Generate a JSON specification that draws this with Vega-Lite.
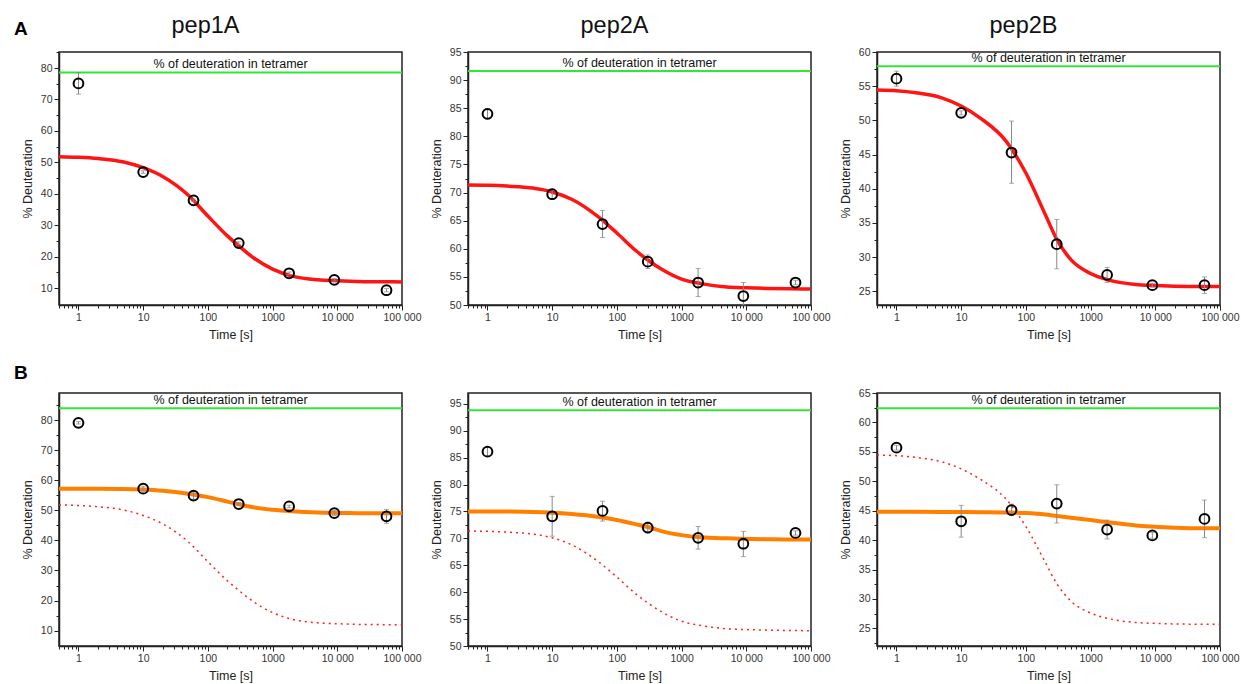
{
  "$schema": "https://vega.github.io/schema/vega-lite/v6.json",
  "background": "white",
  "padding": {"left": 13, "top": 12, "right": 4, "bottom": 4},
  "title": {"text": "A", "anchor": "start", "frame": "group", "fontSize": 19, "fontWeight": "bold", "dx": -45, "offset": -26, "color": "#000"},
  "columns": 3,
  "spacing": {"row": 88, "column": 66},
  "bounds": "flush",
  "config": {
    "font": "Liberation Sans",
    "view": {"stroke": "#222", "strokeWidth": 1.5},
    "axis": {"grid": false, "domainColor": "#222", "domainWidth": 1.5, "tickColor": "#222", "tickWidth": 1, "labelColor": "#333", "labelFontSize": 10.5, "titleColor": "#222", "titleFontSize": 12.5, "titleFontWeight": "normal", "labelPadding": 2, "labelOverlap": false},
    "axisX": {"titlePadding": 6},
    "axisY": {"titlePadding": 6},
    "title": {"fontSize": 23.5, "fontWeight": "normal", "color": "#111", "frame": "group"}
  },
  "datasets": {
    "tetramer": [
      {"p": "A1", "level": 78.6, "label": "% of deuteration in tetramer"},
      {"p": "A2", "level": 91.6, "label": "% of deuteration in tetramer"},
      {"p": "A3", "level": 57.9, "label": "% of deuteration in tetramer"},
      {"p": "B1", "level": 83.9, "label": "% of deuteration in tetramer"},
      {"p": "B2", "level": 93.8, "label": "% of deuteration in tetramer"},
      {"p": "B3", "level": 62.4, "label": "% of deuteration in tetramer"}
    ],
    "points": [
      {"p": "A1", "t": 1, "d": 75.1, "lo": 71.7, "hi": 78.5},
      {"p": "A1", "t": 10, "d": 46.9, "lo": 46.5, "hi": 47.3},
      {"p": "A1", "t": 60, "d": 37.9, "lo": 37.5, "hi": 38.3},
      {"p": "A1", "t": 300, "d": 24.3, "lo": 23.9, "hi": 24.7},
      {"p": "A1", "t": 1800, "d": 14.7, "lo": 14.3, "hi": 15.1},
      {"p": "A1", "t": 9000, "d": 12.6, "lo": 12.2, "hi": 13.0},
      {"p": "A1", "t": 57600, "d": 9.3, "lo": 8.8, "hi": 9.8},
      {"p": "A2", "t": 1, "d": 84.0, "lo": 83.1, "hi": 84.9},
      {"p": "A2", "t": 10, "d": 69.7, "lo": 68.8, "hi": 70.6},
      {"p": "A2", "t": 60, "d": 64.4, "lo": 62.0, "hi": 66.8},
      {"p": "A2", "t": 300, "d": 57.7, "lo": 56.5, "hi": 58.9},
      {"p": "A2", "t": 1800, "d": 54.0, "lo": 51.5, "hi": 56.5},
      {"p": "A2", "t": 9000, "d": 51.6, "lo": 50.0, "hi": 54.0},
      {"p": "A2", "t": 57600, "d": 54.0, "lo": 53.6, "hi": 54.4},
      {"p": "A3", "t": 1, "d": 56.1, "lo": 55.0, "hi": 57.2},
      {"p": "A3", "t": 10, "d": 51.1, "lo": 50.8, "hi": 51.4},
      {"p": "A3", "t": 60, "d": 45.3, "lo": 40.8, "hi": 49.9},
      {"p": "A3", "t": 300, "d": 31.9, "lo": 28.3, "hi": 35.5},
      {"p": "A3", "t": 1800, "d": 27.4, "lo": 26.3, "hi": 28.5},
      {"p": "A3", "t": 9000, "d": 25.9, "lo": 25.6, "hi": 26.2},
      {"p": "A3", "t": 57600, "d": 25.9, "lo": 24.7, "hi": 27.1},
      {"p": "B1", "t": 1, "d": 79.1, "lo": 78.7, "hi": 79.5},
      {"p": "B1", "t": 10, "d": 57.2, "lo": 56.4, "hi": 58.0},
      {"p": "B1", "t": 60, "d": 54.9, "lo": 53.7, "hi": 56.1},
      {"p": "B1", "t": 300, "d": 52.1, "lo": 51.7, "hi": 52.5},
      {"p": "B1", "t": 1800, "d": 51.3, "lo": 50.9, "hi": 51.7},
      {"p": "B1", "t": 9000, "d": 49.1, "lo": 48.3, "hi": 49.9},
      {"p": "B1", "t": 57600, "d": 48.0, "lo": 45.7, "hi": 50.3},
      {"p": "B2", "t": 1, "d": 86.1, "lo": 85.3, "hi": 86.9},
      {"p": "B2", "t": 10, "d": 74.1, "lo": 70.4, "hi": 77.8},
      {"p": "B2", "t": 60, "d": 75.1, "lo": 73.2, "hi": 76.9},
      {"p": "B2", "t": 300, "d": 72.0, "lo": 71.0, "hi": 73.0},
      {"p": "B2", "t": 1800, "d": 70.1, "lo": 68.0, "hi": 72.2},
      {"p": "B2", "t": 9000, "d": 69.0, "lo": 66.6, "hi": 71.3},
      {"p": "B2", "t": 57600, "d": 71.0, "lo": 70.6, "hi": 71.4},
      {"p": "B3", "t": 1, "d": 55.7, "lo": 55.3, "hi": 56.1},
      {"p": "B3", "t": 10, "d": 43.2, "lo": 40.5, "hi": 45.9},
      {"p": "B3", "t": 60, "d": 45.1, "lo": 44.2, "hi": 46.1},
      {"p": "B3", "t": 300, "d": 46.2, "lo": 42.9, "hi": 49.4},
      {"p": "B3", "t": 1800, "d": 41.8, "lo": 40.2, "hi": 43.4},
      {"p": "B3", "t": 9000, "d": 40.8, "lo": 40.3, "hi": 41.3},
      {"p": "B3", "t": 57600, "d": 43.6, "lo": 40.4, "hi": 46.8}
    ],
    "curves": [
      {"p": "pep1A", "f": "A", "t": 0.5, "d": 51.8}, {"p": "pep1A", "f": "A", "t": 1, "d": 51.6}, {"p": "pep1A", "f": "A", "t": 2, "d": 51.2}, {"p": "pep1A", "f": "A", "t": 5, "d": 50.1}, {"p": "pep1A", "f": "A", "t": 10, "d": 48.3}, {"p": "pep1A", "f": "A", "t": 20, "d": 45.5}, {"p": "pep1A", "f": "A", "t": 50, "d": 39.5}, {"p": "pep1A", "f": "A", "t": 100, "d": 32.9}, {"p": "pep1A", "f": "A", "t": 200, "d": 26.6}, {"p": "pep1A", "f": "A", "t": 300, "d": 23.4}, {"p": "pep1A", "f": "A", "t": 500, "d": 19.7}, {"p": "pep1A", "f": "A", "t": 1000, "d": 16.0}, {"p": "pep1A", "f": "A", "t": 2000, "d": 13.8}, {"p": "pep1A", "f": "A", "t": 5000, "d": 12.6}, {"p": "pep1A", "f": "A", "t": 10000, "d": 12.3}, {"p": "pep1A", "f": "A", "t": 20000, "d": 12.1}, {"p": "pep1A", "f": "A", "t": 50000, "d": 12.0}, {"p": "pep1A", "f": "A", "t": 100000, "d": 11.95},
      {"p": "pep2A", "f": "A", "t": 0.5, "d": 71.35}, {"p": "pep2A", "f": "A", "t": 1, "d": 71.3}, {"p": "pep2A", "f": "A", "t": 2, "d": 71.15}, {"p": "pep2A", "f": "A", "t": 5, "d": 70.8}, {"p": "pep2A", "f": "A", "t": 10, "d": 70.1}, {"p": "pep2A", "f": "A", "t": 20, "d": 68.8}, {"p": "pep2A", "f": "A", "t": 50, "d": 65.8}, {"p": "pep2A", "f": "A", "t": 100, "d": 62.8}, {"p": "pep2A", "f": "A", "t": 200, "d": 59.6}, {"p": "pep2A", "f": "A", "t": 300, "d": 58.0}, {"p": "pep2A", "f": "A", "t": 500, "d": 56.3}, {"p": "pep2A", "f": "A", "t": 1000, "d": 54.6}, {"p": "pep2A", "f": "A", "t": 2000, "d": 53.8}, {"p": "pep2A", "f": "A", "t": 5000, "d": 53.2}, {"p": "pep2A", "f": "A", "t": 10000, "d": 53.05}, {"p": "pep2A", "f": "A", "t": 20000, "d": 52.95}, {"p": "pep2A", "f": "A", "t": 50000, "d": 52.87}, {"p": "pep2A", "f": "A", "t": 100000, "d": 52.85},
      {"p": "pep2B", "f": "A", "t": 0.5, "d": 54.45}, {"p": "pep2B", "f": "A", "t": 1, "d": 54.35}, {"p": "pep2B", "f": "A", "t": 2, "d": 54.05}, {"p": "pep2B", "f": "A", "t": 5, "d": 53.3}, {"p": "pep2B", "f": "A", "t": 10, "d": 52.1}, {"p": "pep2B", "f": "A", "t": 20, "d": 50.3}, {"p": "pep2B", "f": "A", "t": 50, "d": 46.9}, {"p": "pep2B", "f": "A", "t": 100, "d": 42.3}, {"p": "pep2B", "f": "A", "t": 200, "d": 36.2}, {"p": "pep2B", "f": "A", "t": 300, "d": 32.6}, {"p": "pep2B", "f": "A", "t": 500, "d": 29.6}, {"p": "pep2B", "f": "A", "t": 1000, "d": 27.6}, {"p": "pep2B", "f": "A", "t": 2000, "d": 26.6}, {"p": "pep2B", "f": "A", "t": 5000, "d": 26.0}, {"p": "pep2B", "f": "A", "t": 10000, "d": 25.85}, {"p": "pep2B", "f": "A", "t": 20000, "d": 25.75}, {"p": "pep2B", "f": "A", "t": 50000, "d": 25.7}, {"p": "pep2B", "f": "A", "t": 100000, "d": 25.7},
      {"p": "pep1A", "f": "B", "t": 0.5, "d": 57.2}, {"p": "pep1A", "f": "B", "t": 1, "d": 57.2}, {"p": "pep1A", "f": "B", "t": 2, "d": 57.15}, {"p": "pep1A", "f": "B", "t": 5, "d": 57.1}, {"p": "pep1A", "f": "B", "t": 10, "d": 56.9}, {"p": "pep1A", "f": "B", "t": 20, "d": 56.5}, {"p": "pep1A", "f": "B", "t": 50, "d": 55.5}, {"p": "pep1A", "f": "B", "t": 100, "d": 54.4}, {"p": "pep1A", "f": "B", "t": 200, "d": 52.9}, {"p": "pep1A", "f": "B", "t": 300, "d": 52.0}, {"p": "pep1A", "f": "B", "t": 500, "d": 51.0}, {"p": "pep1A", "f": "B", "t": 1000, "d": 50.2}, {"p": "pep1A", "f": "B", "t": 2000, "d": 49.7}, {"p": "pep1A", "f": "B", "t": 5000, "d": 49.3}, {"p": "pep1A", "f": "B", "t": 10000, "d": 49.15}, {"p": "pep1A", "f": "B", "t": 20000, "d": 49.05}, {"p": "pep1A", "f": "B", "t": 50000, "d": 49.0}, {"p": "pep1A", "f": "B", "t": 100000, "d": 49.0},
      {"p": "pep2A", "f": "B", "t": 0.5, "d": 75.0}, {"p": "pep2A", "f": "B", "t": 1, "d": 75.0}, {"p": "pep2A", "f": "B", "t": 2, "d": 74.98}, {"p": "pep2A", "f": "B", "t": 5, "d": 74.9}, {"p": "pep2A", "f": "B", "t": 10, "d": 74.75}, {"p": "pep2A", "f": "B", "t": 20, "d": 74.5}, {"p": "pep2A", "f": "B", "t": 50, "d": 74.0}, {"p": "pep2A", "f": "B", "t": 100, "d": 73.4}, {"p": "pep2A", "f": "B", "t": 200, "d": 72.6}, {"p": "pep2A", "f": "B", "t": 300, "d": 72.1}, {"p": "pep2A", "f": "B", "t": 500, "d": 71.3}, {"p": "pep2A", "f": "B", "t": 1000, "d": 70.6}, {"p": "pep2A", "f": "B", "t": 2000, "d": 70.2}, {"p": "pep2A", "f": "B", "t": 5000, "d": 70.0}, {"p": "pep2A", "f": "B", "t": 10000, "d": 69.9}, {"p": "pep2A", "f": "B", "t": 20000, "d": 69.85}, {"p": "pep2A", "f": "B", "t": 50000, "d": 69.8}, {"p": "pep2A", "f": "B", "t": 100000, "d": 69.8},
      {"p": "pep2B", "f": "B", "t": 0.5, "d": 44.8}, {"p": "pep2B", "f": "B", "t": 1, "d": 44.8}, {"p": "pep2B", "f": "B", "t": 2, "d": 44.8}, {"p": "pep2B", "f": "B", "t": 5, "d": 44.79}, {"p": "pep2B", "f": "B", "t": 10, "d": 44.78}, {"p": "pep2B", "f": "B", "t": 20, "d": 44.75}, {"p": "pep2B", "f": "B", "t": 50, "d": 44.7}, {"p": "pep2B", "f": "B", "t": 100, "d": 44.6}, {"p": "pep2B", "f": "B", "t": 200, "d": 44.35}, {"p": "pep2B", "f": "B", "t": 300, "d": 44.1}, {"p": "pep2B", "f": "B", "t": 500, "d": 43.8}, {"p": "pep2B", "f": "B", "t": 1000, "d": 43.4}, {"p": "pep2B", "f": "B", "t": 2000, "d": 43.0}, {"p": "pep2B", "f": "B", "t": 5000, "d": 42.5}, {"p": "pep2B", "f": "B", "t": 10000, "d": 42.25}, {"p": "pep2B", "f": "B", "t": 20000, "d": 42.1}, {"p": "pep2B", "f": "B", "t": 50000, "d": 42.0}, {"p": "pep2B", "f": "B", "t": 100000, "d": 42.0}
    ]
  },
  "concat": [
    {
      "width": 343, "height": 253,
      "title": {"text": "pep1A", "dx": -25, "offset": 10},
      "layer": [
        {"data": {"name": "tetramer"}, "transform": [{"filter": "datum.p == 'A1'"}], "mark": {"type": "rule", "color": "#33e633", "strokeWidth": 2}, "encoding": {"y": {"field": "level", "type": "quantitative", "title": "% Deuteration", "scale": {"domain": [4.6, 85.1], "nice": false, "zero": false}}}},
        {"data": {"name": "tetramer"}, "transform": [{"filter": "datum.p == 'A1'"}], "mark": {"type": "text", "baseline": "bottom", "dy": -1, "fontSize": 12.5, "color": "#111"}, "encoding": {"x": {"datum": 224, "type": "quantitative", "title": "Time [s]", "scale": {"type": "log", "domain": [0.5, 100000], "nice": false}}, "y": {"field": "level", "type": "quantitative", "title": "% Deuteration", "scale": {"domain": [4.6, 85.1], "nice": false, "zero": false}}, "text": {"field": "label"}}},
        {"data": {"name": "curves"}, "transform": [{"filter": "datum.p == 'pep1A' && datum.f == 'A'"}], "mark": {"type": "line", "color": "#ff1414", "strokeWidth": 3.5, "interpolate": "monotone"}, "encoding": {"x": {"field": "t", "type": "quantitative", "title": "Time [s]", "scale": {"type": "log", "domain": [0.5, 100000], "nice": false}}, "y": {"field": "d", "type": "quantitative", "title": "% Deuteration", "scale": {"domain": [4.6, 85.1], "nice": false, "zero": false}}}},
        {"data": {"name": "points"}, "transform": [{"filter": "datum.p == 'A1'"}], "mark": {"type": "errorbar", "ticks": true, "color": "#888", "thickness": 1}, "encoding": {"x": {"field": "t", "type": "quantitative", "title": "Time [s]", "scale": {"type": "log", "domain": [0.5, 100000], "nice": false}}, "y": {"field": "lo", "type": "quantitative", "title": "% Deuteration", "scale": {"domain": [4.6, 85.1], "nice": false, "zero": false}}, "y2": {"field": "hi"}}},
        {"data": {"name": "points"}, "transform": [{"filter": "datum.p == 'A1'"}], "mark": {"type": "point", "shape": "circle", "filled": false, "color": "#000", "strokeWidth": 2, "size": 95, "opacity": 1}, "encoding": {
          "x": {"field": "t", "type": "quantitative", "scale": {"type": "log", "domain": [0.5, 100000], "nice": false}, "axis": {"title": "Time [s]", "tickCount": 20, "labelOverlap": false, "labelFlush": false, "labelExpr": "datum.value == 10000 ? '10 000' : datum.value == 100000 ? '100 000' : indexof([1, 10, 100, 1000], datum.value) >= 0 ? format(datum.value, 'd') : ''", "tickSize": {"condition": {"test": "indexof([1, 10, 100, 1000, 10000, 100000], datum.value) >= 0", "value": 5}, "value": 3}}},
          "y": {"field": "d", "type": "quantitative", "scale": {"domain": [4.6, 85.1], "nice": false, "zero": false}, "axis": {"title": "% Deuteration", "labelOverlap": false, "tickCount": 60, "values": [10, 15, 20, 25, 30, 35, 40, 45, 50, 55, 60, 65, 70, 75, 80, 85], "labelExpr": "datum.value % 10 == 0 ? format(datum.value, 'd') : ''", "tickSize": {"condition": {"test": "datum.value % 10 == 0", "value": 5}, "value": 3}}}}}
      ]
    },
    {
      "width": 343, "height": 253,
      "title": {"text": "pep2A", "dx": -25, "offset": 10},
      "layer": [
        {"data": {"name": "tetramer"}, "transform": [{"filter": "datum.p == 'A2'"}], "mark": {"type": "rule", "color": "#33e633", "strokeWidth": 2}, "encoding": {"y": {"field": "level", "type": "quantitative", "title": "% Deuteration", "scale": {"domain": [50, 95], "nice": false, "zero": false}}}},
        {"data": {"name": "tetramer"}, "transform": [{"filter": "datum.p == 'A2'"}], "mark": {"type": "text", "baseline": "bottom", "dy": -1, "fontSize": 12.5, "color": "#111"}, "encoding": {"x": {"datum": 224, "type": "quantitative", "title": "Time [s]", "scale": {"type": "log", "domain": [0.5, 100000], "nice": false}}, "y": {"field": "level", "type": "quantitative", "title": "% Deuteration", "scale": {"domain": [50, 95], "nice": false, "zero": false}}, "text": {"field": "label"}}},
        {"data": {"name": "curves"}, "transform": [{"filter": "datum.p == 'pep2A' && datum.f == 'A'"}], "mark": {"type": "line", "color": "#ff1414", "strokeWidth": 3.5, "interpolate": "monotone"}, "encoding": {"x": {"field": "t", "type": "quantitative", "title": "Time [s]", "scale": {"type": "log", "domain": [0.5, 100000], "nice": false}}, "y": {"field": "d", "type": "quantitative", "title": "% Deuteration", "scale": {"domain": [50, 95], "nice": false, "zero": false}}}},
        {"data": {"name": "points"}, "transform": [{"filter": "datum.p == 'A2'"}], "mark": {"type": "errorbar", "ticks": true, "color": "#888", "thickness": 1}, "encoding": {"x": {"field": "t", "type": "quantitative", "title": "Time [s]", "scale": {"type": "log", "domain": [0.5, 100000], "nice": false}}, "y": {"field": "lo", "type": "quantitative", "title": "% Deuteration", "scale": {"domain": [50, 95], "nice": false, "zero": false}}, "y2": {"field": "hi"}}},
        {"data": {"name": "points"}, "transform": [{"filter": "datum.p == 'A2'"}], "mark": {"type": "point", "shape": "circle", "filled": false, "color": "#000", "strokeWidth": 2, "size": 95, "opacity": 1}, "encoding": {
          "x": {"field": "t", "type": "quantitative", "scale": {"type": "log", "domain": [0.5, 100000], "nice": false}, "axis": {"title": "Time [s]", "tickCount": 20, "labelOverlap": false, "labelFlush": false, "labelExpr": "datum.value == 10000 ? '10 000' : datum.value == 100000 ? '100 000' : indexof([1, 10, 100, 1000], datum.value) >= 0 ? format(datum.value, 'd') : ''", "tickSize": {"condition": {"test": "indexof([1, 10, 100, 1000, 10000, 100000], datum.value) >= 0", "value": 5}, "value": 3}}},
          "y": {"field": "d", "type": "quantitative", "scale": {"domain": [50, 95], "nice": false, "zero": false}, "axis": {"title": "% Deuteration", "labelOverlap": false, "tickCount": 60, "values": [50, 52.5, 55, 57.5, 60, 62.5, 65, 67.5, 70, 72.5, 75, 77.5, 80, 82.5, 85, 87.5, 90, 92.5, 95], "labelExpr": "datum.value % 5 == 0 ? format(datum.value, 'd') : ''", "tickSize": {"condition": {"test": "datum.value % 5 == 0", "value": 5}, "value": 3}}}}}
      ]
    },
    {
      "width": 343, "height": 253,
      "title": {"text": "pep2B", "dx": -25, "offset": 10},
      "layer": [
        {"data": {"name": "tetramer"}, "transform": [{"filter": "datum.p == 'A3'"}], "mark": {"type": "rule", "color": "#33e633", "strokeWidth": 2}, "encoding": {"y": {"field": "level", "type": "quantitative", "title": "% Deuteration", "scale": {"domain": [23, 60], "nice": false, "zero": false}}}},
        {"data": {"name": "tetramer"}, "transform": [{"filter": "datum.p == 'A3'"}], "mark": {"type": "text", "baseline": "bottom", "dy": -1, "fontSize": 12.5, "color": "#111"}, "encoding": {"x": {"datum": 224, "type": "quantitative", "title": "Time [s]", "scale": {"type": "log", "domain": [0.5, 100000], "nice": false}}, "y": {"field": "level", "type": "quantitative", "title": "% Deuteration", "scale": {"domain": [23, 60], "nice": false, "zero": false}}, "text": {"field": "label"}}},
        {"data": {"name": "curves"}, "transform": [{"filter": "datum.p == 'pep2B' && datum.f == 'A'"}], "mark": {"type": "line", "color": "#ff1414", "strokeWidth": 3.5, "interpolate": "monotone"}, "encoding": {"x": {"field": "t", "type": "quantitative", "title": "Time [s]", "scale": {"type": "log", "domain": [0.5, 100000], "nice": false}}, "y": {"field": "d", "type": "quantitative", "title": "% Deuteration", "scale": {"domain": [23, 60], "nice": false, "zero": false}}}},
        {"data": {"name": "points"}, "transform": [{"filter": "datum.p == 'A3'"}], "mark": {"type": "errorbar", "ticks": true, "color": "#888", "thickness": 1}, "encoding": {"x": {"field": "t", "type": "quantitative", "title": "Time [s]", "scale": {"type": "log", "domain": [0.5, 100000], "nice": false}}, "y": {"field": "lo", "type": "quantitative", "title": "% Deuteration", "scale": {"domain": [23, 60], "nice": false, "zero": false}}, "y2": {"field": "hi"}}},
        {"data": {"name": "points"}, "transform": [{"filter": "datum.p == 'A3'"}], "mark": {"type": "point", "shape": "circle", "filled": false, "color": "#000", "strokeWidth": 2, "size": 95, "opacity": 1}, "encoding": {
          "x": {"field": "t", "type": "quantitative", "scale": {"type": "log", "domain": [0.5, 100000], "nice": false}, "axis": {"title": "Time [s]", "tickCount": 20, "labelOverlap": false, "labelFlush": false, "labelExpr": "datum.value == 10000 ? '10 000' : datum.value == 100000 ? '100 000' : indexof([1, 10, 100, 1000], datum.value) >= 0 ? format(datum.value, 'd') : ''", "tickSize": {"condition": {"test": "indexof([1, 10, 100, 1000, 10000, 100000], datum.value) >= 0", "value": 5}, "value": 3}}},
          "y": {"field": "d", "type": "quantitative", "scale": {"domain": [23, 60], "nice": false, "zero": false}, "axis": {"title": "% Deuteration", "labelOverlap": false, "tickCount": 60, "values": [25, 27.5, 30, 32.5, 35, 37.5, 40, 42.5, 45, 47.5, 50, 52.5, 55, 57.5, 60], "labelExpr": "datum.value % 5 == 0 ? format(datum.value, 'd') : ''", "tickSize": {"condition": {"test": "datum.value % 5 == 0", "value": 5}, "value": 3}}}}}
      ]
    },
    {
      "width": 343, "height": 253,
      "title": {"text": "B", "anchor": "start", "frame": "group", "dx": -45, "offset": 10, "fontSize": 19, "fontWeight": "bold", "color": "#000"},
      "layer": [
        {"data": {"name": "tetramer"}, "transform": [{"filter": "datum.p == 'B1'"}], "mark": {"type": "rule", "color": "#33e633", "strokeWidth": 2}, "encoding": {"y": {"field": "level", "type": "quantitative", "title": "% Deuteration", "scale": {"domain": [4.9, 89], "nice": false, "zero": false}}}},
        {"data": {"name": "tetramer"}, "transform": [{"filter": "datum.p == 'B1'"}], "mark": {"type": "text", "baseline": "bottom", "dy": -1, "fontSize": 12.5, "color": "#111"}, "encoding": {"x": {"datum": 224, "type": "quantitative", "title": "Time [s]", "scale": {"type": "log", "domain": [0.5, 100000], "nice": false}}, "y": {"field": "level", "type": "quantitative", "title": "% Deuteration", "scale": {"domain": [4.9, 89], "nice": false, "zero": false}}, "text": {"field": "label"}}},
        {"data": {"name": "curves"}, "transform": [{"filter": "datum.p == 'pep1A' && datum.f == 'A'"}], "mark": {"type": "line", "color": "#ff2020", "strokeWidth": 1.5, "strokeDash": [2, 4], "interpolate": "monotone"}, "encoding": {"x": {"field": "t", "type": "quantitative", "title": "Time [s]", "scale": {"type": "log", "domain": [0.5, 100000], "nice": false}}, "y": {"field": "d", "type": "quantitative", "title": "% Deuteration", "scale": {"domain": [4.9, 89], "nice": false, "zero": false}}}},
        {"data": {"name": "curves"}, "transform": [{"filter": "datum.p == 'pep1A' && datum.f == 'B'"}], "mark": {"type": "line", "color": "#ff8000", "strokeWidth": 4, "interpolate": "monotone"}, "encoding": {"x": {"field": "t", "type": "quantitative", "title": "Time [s]", "scale": {"type": "log", "domain": [0.5, 100000], "nice": false}}, "y": {"field": "d", "type": "quantitative", "title": "% Deuteration", "scale": {"domain": [4.9, 89], "nice": false, "zero": false}}}},
        {"data": {"name": "points"}, "transform": [{"filter": "datum.p == 'B1'"}], "mark": {"type": "errorbar", "ticks": true, "color": "#888", "thickness": 1}, "encoding": {"x": {"field": "t", "type": "quantitative", "title": "Time [s]", "scale": {"type": "log", "domain": [0.5, 100000], "nice": false}}, "y": {"field": "lo", "type": "quantitative", "title": "% Deuteration", "scale": {"domain": [4.9, 89], "nice": false, "zero": false}}, "y2": {"field": "hi"}}},
        {"data": {"name": "points"}, "transform": [{"filter": "datum.p == 'B1'"}], "mark": {"type": "point", "shape": "circle", "filled": false, "color": "#000", "strokeWidth": 2, "size": 95, "opacity": 1}, "encoding": {
          "x": {"field": "t", "type": "quantitative", "scale": {"type": "log", "domain": [0.5, 100000], "nice": false}, "axis": {"title": "Time [s]", "tickCount": 20, "labelOverlap": false, "labelFlush": false, "labelExpr": "datum.value == 10000 ? '10 000' : datum.value == 100000 ? '100 000' : indexof([1, 10, 100, 1000], datum.value) >= 0 ? format(datum.value, 'd') : ''", "tickSize": {"condition": {"test": "indexof([1, 10, 100, 1000, 10000, 100000], datum.value) >= 0", "value": 5}, "value": 3}}},
          "y": {"field": "d", "type": "quantitative", "scale": {"domain": [4.9, 89], "nice": false, "zero": false}, "axis": {"title": "% Deuteration", "labelOverlap": false, "tickCount": 60, "values": [10, 15, 20, 25, 30, 35, 40, 45, 50, 55, 60, 65, 70, 75, 80, 85], "labelExpr": "datum.value % 10 == 0 ? format(datum.value, 'd') : ''", "tickSize": {"condition": {"test": "datum.value % 10 == 0", "value": 5}, "value": 3}}}}}
      ]
    },
    {
      "width": 343, "height": 253,
      "layer": [
        {"data": {"name": "tetramer"}, "transform": [{"filter": "datum.p == 'B2'"}], "mark": {"type": "rule", "color": "#33e633", "strokeWidth": 2}, "encoding": {"y": {"field": "level", "type": "quantitative", "title": "% Deuteration", "scale": {"domain": [50, 97], "nice": false, "zero": false}}}},
        {"data": {"name": "tetramer"}, "transform": [{"filter": "datum.p == 'B2'"}], "mark": {"type": "text", "baseline": "bottom", "dy": -1, "fontSize": 12.5, "color": "#111"}, "encoding": {"x": {"datum": 224, "type": "quantitative", "title": "Time [s]", "scale": {"type": "log", "domain": [0.5, 100000], "nice": false}}, "y": {"field": "level", "type": "quantitative", "title": "% Deuteration", "scale": {"domain": [50, 97], "nice": false, "zero": false}}, "text": {"field": "label"}}},
        {"data": {"name": "curves"}, "transform": [{"filter": "datum.p == 'pep2A' && datum.f == 'A'"}], "mark": {"type": "line", "color": "#ff2020", "strokeWidth": 1.5, "strokeDash": [2, 4], "interpolate": "monotone"}, "encoding": {"x": {"field": "t", "type": "quantitative", "title": "Time [s]", "scale": {"type": "log", "domain": [0.5, 100000], "nice": false}}, "y": {"field": "d", "type": "quantitative", "title": "% Deuteration", "scale": {"domain": [50, 97], "nice": false, "zero": false}}}},
        {"data": {"name": "curves"}, "transform": [{"filter": "datum.p == 'pep2A' && datum.f == 'B'"}], "mark": {"type": "line", "color": "#ff8000", "strokeWidth": 4, "interpolate": "monotone"}, "encoding": {"x": {"field": "t", "type": "quantitative", "title": "Time [s]", "scale": {"type": "log", "domain": [0.5, 100000], "nice": false}}, "y": {"field": "d", "type": "quantitative", "title": "% Deuteration", "scale": {"domain": [50, 97], "nice": false, "zero": false}}}},
        {"data": {"name": "points"}, "transform": [{"filter": "datum.p == 'B2'"}], "mark": {"type": "errorbar", "ticks": true, "color": "#888", "thickness": 1}, "encoding": {"x": {"field": "t", "type": "quantitative", "title": "Time [s]", "scale": {"type": "log", "domain": [0.5, 100000], "nice": false}}, "y": {"field": "lo", "type": "quantitative", "title": "% Deuteration", "scale": {"domain": [50, 97], "nice": false, "zero": false}}, "y2": {"field": "hi"}}},
        {"data": {"name": "points"}, "transform": [{"filter": "datum.p == 'B2'"}], "mark": {"type": "point", "shape": "circle", "filled": false, "color": "#000", "strokeWidth": 2, "size": 95, "opacity": 1}, "encoding": {
          "x": {"field": "t", "type": "quantitative", "scale": {"type": "log", "domain": [0.5, 100000], "nice": false}, "axis": {"title": "Time [s]", "tickCount": 20, "labelOverlap": false, "labelFlush": false, "labelExpr": "datum.value == 10000 ? '10 000' : datum.value == 100000 ? '100 000' : indexof([1, 10, 100, 1000], datum.value) >= 0 ? format(datum.value, 'd') : ''", "tickSize": {"condition": {"test": "indexof([1, 10, 100, 1000, 10000, 100000], datum.value) >= 0", "value": 5}, "value": 3}}},
          "y": {"field": "d", "type": "quantitative", "scale": {"domain": [50, 97], "nice": false, "zero": false}, "axis": {"title": "% Deuteration", "labelOverlap": false, "tickCount": 60, "values": [50, 52.5, 55, 57.5, 60, 62.5, 65, 67.5, 70, 72.5, 75, 77.5, 80, 82.5, 85, 87.5, 90, 92.5, 95], "labelExpr": "datum.value % 5 == 0 ? format(datum.value, 'd') : ''", "tickSize": {"condition": {"test": "datum.value % 5 == 0", "value": 5}, "value": 3}}}}}
      ]
    },
    {
      "width": 343, "height": 253,
      "layer": [
        {"data": {"name": "tetramer"}, "transform": [{"filter": "datum.p == 'B3'"}], "mark": {"type": "rule", "color": "#33e633", "strokeWidth": 2}, "encoding": {"y": {"field": "level", "type": "quantitative", "title": "% Deuteration", "scale": {"domain": [22, 65], "nice": false, "zero": false}}}},
        {"data": {"name": "tetramer"}, "transform": [{"filter": "datum.p == 'B3'"}], "mark": {"type": "text", "baseline": "bottom", "dy": -1, "fontSize": 12.5, "color": "#111"}, "encoding": {"x": {"datum": 224, "type": "quantitative", "title": "Time [s]", "scale": {"type": "log", "domain": [0.5, 100000], "nice": false}}, "y": {"field": "level", "type": "quantitative", "title": "% Deuteration", "scale": {"domain": [22, 65], "nice": false, "zero": false}}, "text": {"field": "label"}}},
        {"data": {"name": "curves"}, "transform": [{"filter": "datum.p == 'pep2B' && datum.f == 'A'"}], "mark": {"type": "line", "color": "#ff2020", "strokeWidth": 1.5, "strokeDash": [2, 4], "interpolate": "monotone"}, "encoding": {"x": {"field": "t", "type": "quantitative", "title": "Time [s]", "scale": {"type": "log", "domain": [0.5, 100000], "nice": false}}, "y": {"field": "d", "type": "quantitative", "title": "% Deuteration", "scale": {"domain": [22, 65], "nice": false, "zero": false}}}},
        {"data": {"name": "curves"}, "transform": [{"filter": "datum.p == 'pep2B' && datum.f == 'B'"}], "mark": {"type": "line", "color": "#ff8000", "strokeWidth": 4, "interpolate": "monotone"}, "encoding": {"x": {"field": "t", "type": "quantitative", "title": "Time [s]", "scale": {"type": "log", "domain": [0.5, 100000], "nice": false}}, "y": {"field": "d", "type": "quantitative", "title": "% Deuteration", "scale": {"domain": [22, 65], "nice": false, "zero": false}}}},
        {"data": {"name": "points"}, "transform": [{"filter": "datum.p == 'B3'"}], "mark": {"type": "errorbar", "ticks": true, "color": "#888", "thickness": 1}, "encoding": {"x": {"field": "t", "type": "quantitative", "title": "Time [s]", "scale": {"type": "log", "domain": [0.5, 100000], "nice": false}}, "y": {"field": "lo", "type": "quantitative", "title": "% Deuteration", "scale": {"domain": [22, 65], "nice": false, "zero": false}}, "y2": {"field": "hi"}}},
        {"data": {"name": "points"}, "transform": [{"filter": "datum.p == 'B3'"}], "mark": {"type": "point", "shape": "circle", "filled": false, "color": "#000", "strokeWidth": 2, "size": 95, "opacity": 1}, "encoding": {
          "x": {"field": "t", "type": "quantitative", "scale": {"type": "log", "domain": [0.5, 100000], "nice": false}, "axis": {"title": "Time [s]", "tickCount": 20, "labelOverlap": false, "labelFlush": false, "labelExpr": "datum.value == 10000 ? '10 000' : datum.value == 100000 ? '100 000' : indexof([1, 10, 100, 1000], datum.value) >= 0 ? format(datum.value, 'd') : ''", "tickSize": {"condition": {"test": "indexof([1, 10, 100, 1000, 10000, 100000], datum.value) >= 0", "value": 5}, "value": 3}}},
          "y": {"field": "d", "type": "quantitative", "scale": {"domain": [22, 65], "nice": false, "zero": false}, "axis": {"title": "% Deuteration", "labelOverlap": false, "tickCount": 60, "values": [22.5, 25, 27.5, 30, 32.5, 35, 37.5, 40, 42.5, 45, 47.5, 50, 52.5, 55, 57.5, 60, 62.5, 65], "labelExpr": "datum.value % 5 == 0 ? format(datum.value, 'd') : ''", "tickSize": {"condition": {"test": "datum.value % 5 == 0", "value": 5}, "value": 3}}}}}
      ]
    }
  ]
}
